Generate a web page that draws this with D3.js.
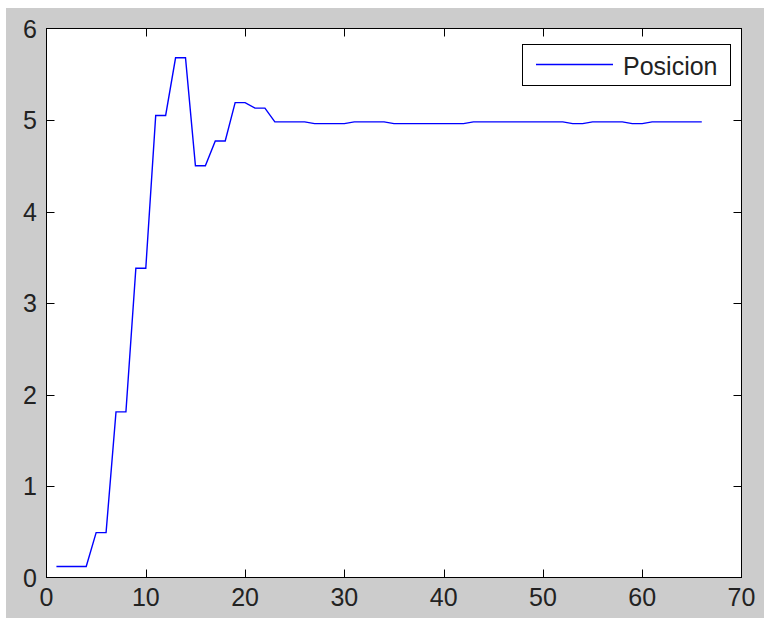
<!DOCTYPE html>
<html><head><meta charset="utf-8">
<script src="https://cdn.jsdelivr.net/npm/d3@7"></script>
<style>body{margin:0;background:#fff}svg{display:block}text{font-family:"Liberation Sans",Arial,sans-serif}</style>
</head><body><svg id="c" width="764" height="618"></svg>
<script>
const xValues = [1,2,3,4,5,6,7,8,9,10,11,12,13,14,15,16,17,18,19,20,21,22,23,24,25,26,27,28,29,30,31,32,33,34,35,36,37,38,39,40,41,42,43,44,45,46,47,48,49,50,51,52,53,54,55,56,57,58,59,60,61,62,63,64,65,66];
const posicion = [0.12,0.12,0.12,0.12,0.49,0.49,1.81,1.81,3.38,3.38,5.05,5.05,5.68,5.68,4.50,4.50,4.77,4.77,5.19,5.19,5.13,5.13,4.98,4.98,4.98,4.98,4.96,4.96,4.96,4.96,4.98,4.98,4.98,4.98,4.96,4.96,4.96,4.96,4.96,4.96,4.96,4.96,4.98,4.98,4.98,4.98,4.98,4.98,4.98,4.98,4.98,4.98,4.96,4.96,4.98,4.98,4.98,4.98,4.96,4.96,4.98,4.98,4.98,4.98,4.98,4.98];
const xTicks = [0,10,20,30,40,50,60,70];
const yTicks = [0,1,2,3,4,5,6];
const seriesName = "Posicion";

const svg = d3.select("#c");
const L = 46.5, R = 741.5, T = 28.5, B = 577.5;
svg.append("rect").attr("x",6).attr("y",8).attr("width",758).attr("height",610).attr("fill","#cccccc");
svg.append("rect").attr("x",L).attr("y",T).attr("width",R-L).attr("height",B-T).attr("fill","#fff");

const x = d3.scaleLinear().domain([0,70]).range([L,R]);
const y = d3.scaleLinear().domain([0,6]).range([B,T]);
const tl = 8;

// ticks on all four sides, inward
const g = svg.append("g").attr("stroke","#000").attr("stroke-width",1);
xTicks.forEach(t=>{
  const px = Math.round(x(t))+0.5;
  if (t>0 && t<70){
    g.append("line").attr("x1",px).attr("x2",px).attr("y1",B).attr("y2",B-tl);
    g.append("line").attr("x1",px).attr("x2",px).attr("y1",T).attr("y2",T+tl);
  }
});
yTicks.forEach(t=>{
  const py = Math.round(y(t))+0.5;
  if (t>0 && t<6){
    g.append("line").attr("x1",L).attr("x2",L+tl).attr("y1",py).attr("y2",py);
    g.append("line").attr("x1",R).attr("x2",R-tl).attr("y1",py).attr("y2",py);
  }
});
svg.append("rect").attr("x",L).attr("y",T).attr("width",R-L).attr("height",B-T)
  .attr("fill","none").attr("stroke","#000").attr("stroke-width",1);

// labels
svg.append("g").selectAll("text").data(xTicks).join("text")
  .attr("x",d=>x(d)).attr("y",606).attr("text-anchor","middle")
  .attr("font-size",25).attr("fill","#222").text(d=>d);
svg.append("g").selectAll("text").data(yTicks).join("text")
  .attr("x",37).attr("y",d=>y(d)+9).attr("text-anchor","end")
  .attr("font-size",25).attr("fill","#222").text(d=>d);

// line
const line = d3.line().x((d,i)=>x(xValues[i])).y(d=>y(d));
svg.append("path").datum(posicion).attr("d",line)
  .attr("fill","none").attr("stroke","#0000ff").attr("stroke-width",1.4).attr("stroke-linejoin","miter");

// legend
const lg = svg.append("g");
lg.append("rect").attr("x",522.5).attr("y",44.5).attr("width",208).attr("height",41)
  .attr("fill","#fff").attr("stroke","#000").attr("stroke-width",1);
lg.append("line").attr("x1",536).attr("x2",613).attr("y1",64.5).attr("y2",64.5)
  .attr("stroke","#0000ff").attr("stroke-width",1.4);
lg.append("text").attr("x",623).attr("y",75).attr("font-size",25).attr("fill","#222").text(seriesName);
</script></body></html>
